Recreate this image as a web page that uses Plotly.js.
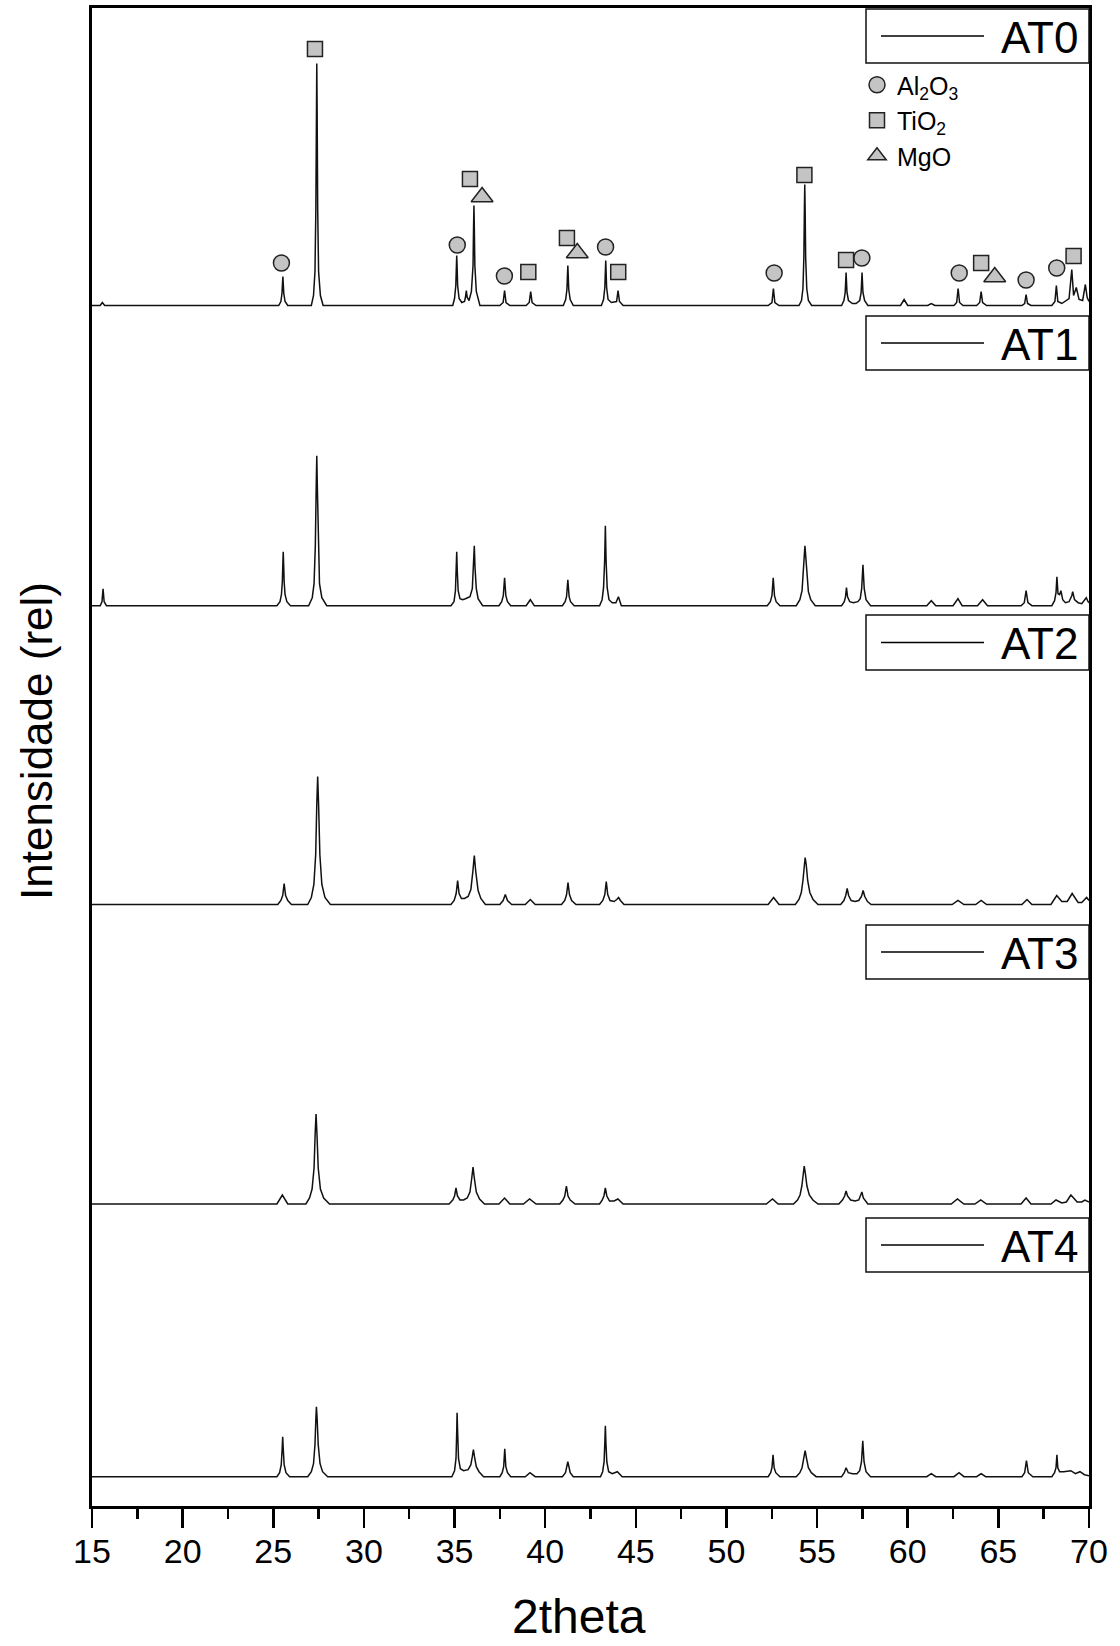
<!DOCTYPE html>
<html><head><meta charset="utf-8">
<script src="https://cdn.plot.ly/plotly-3.0.1.min.js"></script>
<style>html,body{margin:0;padding:0;background:#fff}</style>
</head><body>
<div id="chart" style="width:1120px;height:1646px"></div>
<script>
// ---- sample names ----
const samples = ["AT0", "AT1", "AT2", "AT3", "AT4"];

// ---- diffraction profiles: [2theta, intensity above the pattern's own baseline] ----
const profile_AT0 = [[15.0,0],
  [15.45,0],[15.57,3],[15.7,0],
  [25.3,0],[25.42,4],[25.48,12],[25.53,29],[25.58,12],[25.65,4],[25.8,0],
  [27.1,0],[27.22,10],[27.3,34],[27.35,97],[27.38,194],[27.40,242],[27.42,194],[27.45,97],[27.5,34],[27.6,10],[27.75,0],
  [34.9,0],[35.0,7],[35.07,20],[35.1,40],[35.12,50],[35.14,40],[35.17,20],[35.25,7],[35.4,3],[35.55,4],[35.6,8],[35.65,15],[35.7,8],[35.8,5],
  [35.93,14],[36.02,40],[36.05,80],[36.07,100],[36.09,80],[36.12,40],[36.2,14],[36.4,0],
  [37.5,0],[37.68,3],[37.76,15],[37.84,3],[38.05,0],
  [38.95,0],[39.12,3],[39.2,14],[39.28,3],[39.5,0],
  [41.0,0],[41.13,6],[41.2,16],[41.25,40],[41.3,16],[41.38,6],[41.55,0],
  [43.1,0],[43.22,6],[43.29,18],[43.34,45],[43.39,18],[43.47,6],[43.65,3],[43.94,4],[44.02,15],[44.1,4],[44.3,0],
  [52.3,0],[52.51,3],[52.59,17],[52.67,3],[52.9,0],
  [54.0,0],[54.14,5],[54.22,17],[54.27,48],[54.3,97],[54.32,121],[54.34,97],[54.37,48],[54.43,17],[54.52,5],[54.7,0],
  [56.35,0],[56.48,5],[56.55,13],[56.6,33],[56.65,13],[56.73,5],[56.95,2],[57.15,2],[57.35,5],[57.43,13],[57.48,33],[57.53,13],[57.62,5],[57.8,0],
  [59.6,0],[59.8,6],[60.0,0],
  [61.1,0],[61.3,2],[61.5,0],
  [62.55,0],[62.7,3],[62.78,17],[62.86,3],[63.05,0],
  [63.8,0],[63.97,3],[64.05,14],[64.13,3],[64.35,0],
  [66.3,0],[66.45,2],[66.53,11],[66.61,2],[66.8,0],
  [67.95,0],[68.12,4],[68.2,20],[68.28,4],[68.5,2],[68.9,7],[69.05,36],[69.15,10],[69.3,18],[69.45,6],[69.65,5],[69.8,21],[69.9,8],[70.0,4]];

const profile_AT1 = [[15.0,0],
  [15.45,0],[15.55,4],[15.61,17],[15.67,4],[15.8,0],
  [25.2,0],[25.37,4],[25.45,11],[25.5,24],[25.53,43],[25.55,54],[25.57,43],[25.6,24],[25.65,11],[25.75,4],[25.95,0],
  [26.95,0],[27.15,8],[27.25,22],[27.32,60],[27.37,120],[27.4,150],[27.43,120],[27.48,60],[27.55,22],[27.68,8],[27.95,0],
  [34.8,0],[34.97,4],[35.05,15],[35.09,35],[35.12,54],[35.15,35],[35.2,15],[35.3,7],[35.45,6],[35.6,7],[35.85,9],
  [35.98,17],[36.05,38],[36.09,60],[36.13,38],[36.2,17],[36.3,7],[36.55,0],
  [37.45,0],[37.6,4],[37.69,10],[37.76,28],[37.83,10],[37.92,4],[38.1,0],
  [38.95,0],[39.18,6],[39.4,0],
  [40.95,0],[41.1,4],[41.18,9],[41.25,26],[41.32,9],[41.4,4],[41.6,0],
  [43.0,0],[43.14,6],[43.22,18],[43.28,45],[43.32,80],[43.36,45],[43.42,18],[43.52,6],[43.7,3],[43.9,3],[44.04,9],[44.2,0],
  [52.25,0],[52.42,4],[52.51,10],[52.58,28],[52.65,10],[52.74,4],[52.95,0],
  [53.85,0],[54.05,6],[54.17,15],[54.26,35],[54.3,52],[54.33,60],[54.37,50],[54.42,32],[54.52,14],[54.65,6],[54.9,0],
  [56.35,0],[56.5,4],[56.57,9],[56.62,18],[56.68,9],[56.8,4],[57.0,3],[57.25,4],[57.38,7],[57.46,17],[57.53,41],[57.6,17],[57.7,6],[57.95,0],
  [61.05,0],[61.3,5],[61.55,0],
  [62.5,0],[62.77,7],[63.0,0],
  [63.85,0],[64.13,6],[64.4,0],
  [66.25,0],[66.43,3],[66.53,15],[66.63,3],[66.85,0],
  [67.95,0],[68.1,5],[68.18,13],[68.23,29],[68.29,12],[68.38,11],[68.45,15],[68.55,6],[68.7,3],[68.9,4],[69.05,10],[69.1,14],[69.2,6],
  [69.4,3],[69.6,2],[69.8,6],[69.85,8],[69.95,4],[70.0,3]];

const profile_AT2 = [[15.0,0],
  [25.25,0],[25.42,4],[25.52,9],[25.6,21],[25.68,9],[25.8,4],[26.0,0],
  [26.9,0],[27.1,7],[27.24,20],[27.34,50],[27.4,100],[27.45,128],[27.5,100],[27.57,50],[27.68,20],[27.85,7],[28.15,0],
  [34.8,0],[34.98,4],[35.09,11],[35.17,24],[35.25,11],[35.38,6],[35.55,6],[35.75,8],[35.9,15],[36.01,33],[36.09,49],[36.17,33],[36.3,14],[36.45,6],[36.7,0],
  [37.5,0],[37.68,4],[37.8,10],[37.92,4],[38.15,0],
  [38.9,0],[39.18,5],[39.45,0],
  [40.9,0],[41.08,4],[41.18,10],[41.26,22],[41.34,10],[41.46,4],[41.7,0],
  [43.0,0],[43.18,4],[43.29,10],[43.37,23],[43.45,10],[43.58,4],[43.8,3],[43.95,5],[44.05,7],[44.15,4],[44.35,0],
  [52.3,0],[52.6,7],[52.9,0],
  [53.8,0],[54.0,5],[54.13,12],[54.22,24],[54.29,40],[54.34,47],[54.4,40],[54.48,24],[54.6,12],[54.78,5],[55.05,0],
  [56.3,0],[56.48,4],[56.58,9],[56.66,16],[56.74,9],[56.88,4],[57.1,3],[57.3,4],[57.45,8],[57.54,14],[57.63,8],[57.78,3],[57.98,0],
  [62.45,0],[62.77,4],[63.1,0],
  [63.75,0],[64.05,4],[64.35,0],
  [66.3,0],[66.58,5],[66.85,0],
  [67.9,0],[68.22,9],[68.5,3],[68.8,3],[69.07,11],[69.4,2],[69.6,2],[69.87,7],[70.0,4]];

const profile_AT3 = [[15.0,0],
  [25.2,0],[25.5,9],[25.8,0],
  [26.8,0],[27.0,6],[27.14,15],[27.25,36],[27.31,70],[27.36,90],[27.41,70],[27.48,36],[27.6,15],[27.78,6],[28.1,0],
  [34.7,0],[34.9,4],[35.0,8],[35.08,16],[35.16,8],[35.3,4],[35.5,4],[35.7,6],[35.85,12],[35.95,26],[36.02,37],[36.09,26],[36.2,12],[36.38,5],[36.65,0],
  [37.45,0],[37.76,6],[38.05,0],
  [38.8,0],[39.14,5],[39.5,0],
  [40.8,0],[40.98,4],[41.08,8],[41.17,18],[41.26,8],[41.38,4],[41.65,0],
  [43.0,0],[43.15,4],[43.24,8],[43.32,16],[43.4,8],[43.55,3],[43.8,3],[44.01,5],[44.3,0],
  [52.2,0],[52.54,5],[52.85,0],
  [53.7,0],[53.92,4],[54.06,9],[54.16,18],[54.24,31],[54.29,38],[54.35,31],[54.44,18],[54.57,9],[54.77,4],[55.05,0],
  [56.2,0],[56.4,4],[56.52,8],[56.6,13],[56.68,8],[56.85,4],[57.1,3],[57.3,4],[57.4,8],[57.47,12],[57.55,6],[57.8,0],
  [62.4,0],[62.74,5],[63.1,0],
  [63.7,0],[64.03,4],[64.35,0],
  [66.25,0],[66.53,6],[66.8,0],
  [67.9,0],[68.18,4],[68.5,1],[68.75,2],[69.0,9],[69.35,2],[69.6,2],[69.78,4],[70.0,2]];

const profile_AT4 = [[15.0,0],
  [25.2,0],[25.35,4],[25.44,12],[25.49,28],[25.52,40],[25.55,28],[25.6,12],[25.7,4],[25.9,0],
  [26.9,0],[27.1,5],[27.22,13],[27.3,32],[27.35,58],[27.38,70],[27.42,58],[27.48,32],[27.58,13],[27.72,5],[28.0,0],
  [34.85,0],[35.0,6],[35.08,18],[35.12,45],[35.14,64],[35.17,45],[35.22,18],[35.32,8],[35.5,6],[35.75,7],[35.9,12],[35.98,20],[36.04,27],[36.1,20],[36.2,10],[36.35,5],[36.6,0],
  [37.5,0],[37.63,4],[37.71,10],[37.77,28],[37.83,10],[37.92,4],[38.1,0],
  [38.9,0],[39.16,4],[39.45,0],
  [40.95,0],[41.12,4],[41.25,15],[41.38,4],[41.55,0],
  [43.05,0],[43.17,5],[43.25,15],[43.29,34],[43.32,51],[43.35,34],[43.4,15],[43.5,5],[43.7,3],[43.98,5],[44.25,0],
  [52.3,0],[52.44,4],[52.51,9],[52.57,22],[52.63,9],[52.72,4],[52.95,0],
  [53.85,0],[54.05,4],[54.17,9],[54.26,18],[54.34,26],[54.42,18],[54.52,9],[54.68,4],[54.95,0],
  [56.35,0],[56.5,4],[56.6,9],[56.72,4],[56.95,3],[57.2,3],[57.35,6],[57.45,15],[57.52,36],[57.59,15],[57.7,5],[57.95,0],
  [61.05,0],[61.3,3],[61.55,0],
  [62.55,0],[62.83,4],[63.1,0],
  [63.8,0],[64.05,3],[64.3,0],
  [66.3,0],[66.45,4],[66.55,16],[66.65,4],[66.9,0],
  [67.95,0],[68.1,4],[68.18,9],[68.23,22],[68.28,9],[68.38,5],[68.6,5],[69.0,6],[69.25,3],[69.5,5],[69.75,2],[70.0,1]];

// ---- phase identification marks on AT0 (2theta, height above AT0 baseline) ----
const phases = ["Al<sub>2</sub>O<sub>3</sub>", "TiO<sub>2</sub>", "MgO"];
const al2o3_tt = [25.45, 35.15, 37.75, 43.33, 52.63, 57.47, 62.84, 66.53, 68.22];
const al2o3_h  = [42.5, 60.5, 29.5, 58.5, 32.5, 47.5, 32.5, 25.5, 37.5];
const tio2_tt  = [27.3, 35.85, 39.07, 41.2, 44.03, 54.3, 56.6, 64.05, 69.15];
const tio2_h   = [256.5, 126.5, 33.5, 67.5, 33.5, 130.5, 45.5, 42.5, 49.5];
const mgo_tt   = [36.52, 41.77, 64.8];
const mgo_h    = [108.5, 52.5, 28.5];

// ---- axis text ----
const xTicks = [15, 20, 25, 30, 35, 40, 45, 50, 55, 60, 65, 70];
const xTitle = "2theta";
const yTitle = "Intensidade (rel)";

// ---- layout geometry (pixels) ----
const W = 1120, H = 1646;
const PL = 92, PR = 1089, PT = 8, PB = 1506;
const offsets = [1200.5, 900.3, 601.5, 302, 29.3];   // vertical stacking of the patterns
const legendBoxes = [[9, 63], [316, 370], [615, 670], [925, 979], [1218, 1272]];

const FONT = "Liberation Sans, Arial, Helvetica, sans-serif";
const px2x = p => (p - PL) / (PR - PL);
const px2y = p => (PB - p) / (PB - PT);

const profiles = [profile_AT0, profile_AT1, profile_AT2, profile_AT3, profile_AT4];

const traces = samples.map((name, i) => ({
  type: "scatter", mode: "lines", name: name,
  x: profiles[i].map(p => p[0]), y: profiles[i].map(p => p[1] + offsets[i]),
  line: {color: "#111", width: 1.5}, showlegend: false, hoverinfo: "skip"
}));

const mk = {color: "#c4c4c4", line: {color: "#222", width: 1.5}};
traces.push({type: "scatter", mode: "markers", name: phases[0], x: al2o3_tt, y: al2o3_h.map(v => v + offsets[0]),
  marker: Object.assign({symbol: "circle", size: 16}, mk)});
traces.push({type: "scatter", mode: "markers", name: phases[1], x: tio2_tt, y: tio2_h.map(v => v + offsets[0]),
  marker: Object.assign({symbol: "square", size: 15}, mk)});
traces.push({type: "scatter", mode: "markers", name: phases[2], x: mgo_tt, y: mgo_h.map(v => v + offsets[0]),
  marker: Object.assign({symbol: "triangle-up", size: 19}, mk)});

const shapes = [], annotations = [];
samples.forEach((name, i) => {
  const [t, b] = legendBoxes[i];
  const c = (t + b) / 2;
  shapes.push({type: "rect", xref: "paper", yref: "paper", layer: "above",
    x0: px2x(866), x1: px2x(1089), y0: px2y(b), y1: px2y(t),
    line: {color: "#111", width: 1.5}, fillcolor: "#fff"});
  shapes.push({type: "line", xref: "paper", yref: "paper", layer: "above",
    x0: px2x(881), x1: px2x(984), y0: px2y(c), y1: px2y(c),
    line: {color: "#000", width: 1.3}});
  annotations.push({xref: "paper", yref: "paper", x: px2x(1080), y: px2y(c + 1),
    xanchor: "right", yanchor: "middle", showarrow: false, text: name,
    font: {family: FONT, size: 44, color: "#000"}});
});
// axis titles
annotations.push({xref: "paper", yref: "paper", x: px2x(579), y: px2y(1645),
  xanchor: "center", yanchor: "bottom", showarrow: false, text: xTitle,
  font: {family: FONT, size: 48, color: "#000"}});
annotations.push({xref: "paper", yref: "paper", x: px2x(36), y: px2y(741),
  xanchor: "center", yanchor: "middle", showarrow: false, text: yTitle, textangle: -90,
  font: {family: FONT, size: 44, color: "#000"}});

const layout = {
  width: W, height: H,
  margin: {l: PL, r: W - PR, t: PT, b: H - PB},
  paper_bgcolor: "#fff", plot_bgcolor: "#fff",
  font: {family: FONT, color: "#000"},
  showlegend: true,
  legend: {x: px2x(857), y: px2y(62), xanchor: "left", yanchor: "top",
    bgcolor: "rgba(0,0,0,0)", borderwidth: 0, font: {family: FONT, size: 25, color: "#000"},
    itemsizing: "trace", tracegroupgap: 0},
  xaxis: {range: [15, 70], tickvals: xTicks, ticktext: xTicks.map(String),
    showgrid: false, zeroline: false, showline: true, linewidth: 3, linecolor: "#000", mirror: true,
    ticks: "outside", ticklen: 19, tickwidth: 2.5, tickcolor: "#000",
    minor: {dtick: 2.5, tick0: 15, ticks: "outside", ticklen: 10, tickwidth: 2.5, tickcolor: "#000"},
    tickfont: {family: FONT, size: 34, color: "#000"}, ticklabelstandoff: -6},
  yaxis: {range: [0, PB - PT], showticklabels: false, ticks: "",
    showgrid: false, zeroline: false, showline: true, linewidth: 3, linecolor: "#000", mirror: true},
  shapes: shapes, annotations: annotations
};

Plotly.newPlot("chart", traces, layout, {displayModeBar: false, staticPlot: true});
</script>
</body></html>
